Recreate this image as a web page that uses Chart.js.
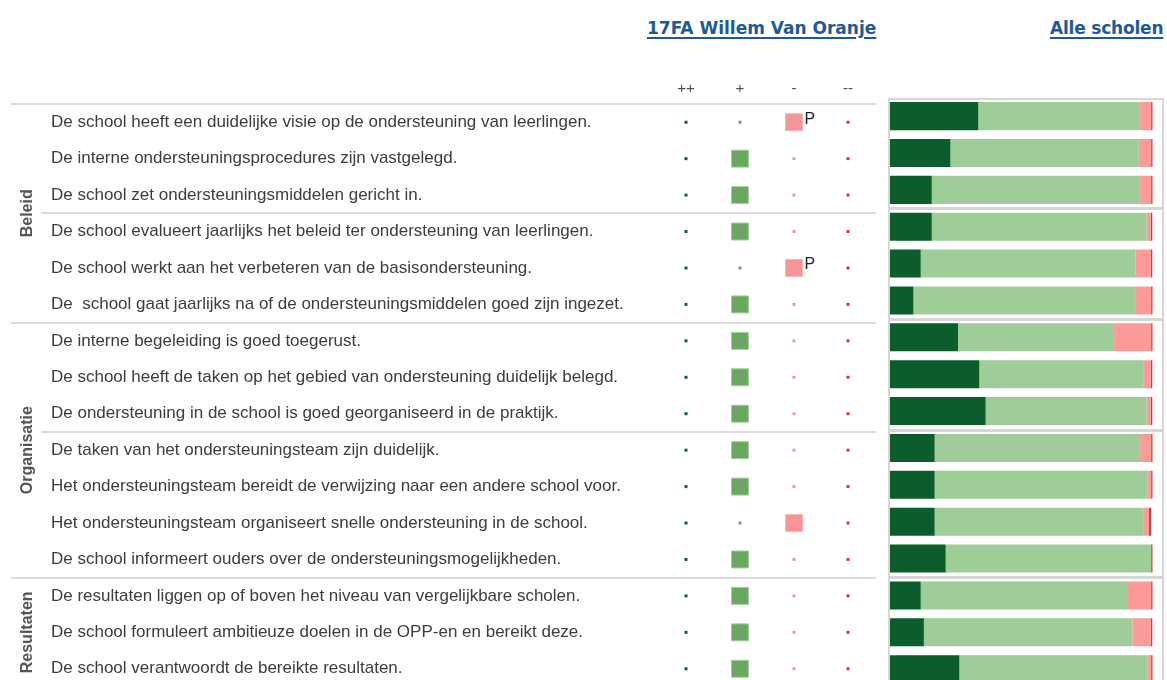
<!DOCTYPE html>
<html><head><meta charset="utf-8">
<script src="https://cdn.jsdelivr.net/npm/chart.js@4.4.1/dist/chart.umd.min.js"></script>
<style>
html,body{margin:0;padding:0;background:#fff;overflow:hidden;width:1167px;height:680px;}
#wrap{position:relative;width:1167px;height:680px;overflow:hidden;background:#fff;}
.title{position:absolute;font-family:"DejaVu Sans",sans-serif;font-weight:bold;font-size:17px;line-height:20px;color:#1f5a96;text-decoration:underline;text-underline-offset:3px;text-decoration-thickness:2px;white-space:nowrap;}
#c1{position:absolute;left:0;top:0;}
#c2{position:absolute;left:880px;top:0;}
</style></head>
<body><div id="wrap">
<div class="title" style="left:647px;top:18px">17FA Willem Van Oranje</div>
<div class="title" style="left:1050px;top:18px;letter-spacing:-0.2px">Alle scholen</div>
<canvas id="c1" width="888" height="700"></canvas>
<canvas id="c2" width="287" height="700"></canvas>
</div>
<script>
// ---- data ----
const questions = [
  "De school heeft een duidelijke visie op de ondersteuning van leerlingen.",
  "De interne ondersteuningsprocedures zijn vastgelegd.",
  "De school zet ondersteuningsmiddelen gericht in.",
  "De school evalueert jaarlijks het beleid ter ondersteuning van leerlingen.",
  "De school werkt aan het verbeteren van de basisondersteuning.",
  "De  school gaat jaarlijks na of de ondersteuningsmiddelen goed zijn ingezet.",
  "De interne begeleiding is goed toegerust.",
  "De school heeft de taken op het gebied van ondersteuning duidelijk belegd.",
  "De ondersteuning in de school is goed georganiseerd in de praktijk.",
  "De taken van het ondersteuningsteam zijn duidelijk.",
  "Het ondersteuningsteam bereidt de verwijzing naar een andere school voor.",
  "Het ondersteuningsteam organiseert snelle ondersteuning in de school.",
  "De school informeert ouders over de ondersteuningsmogelijkheden.",
  "De resultaten liggen op of boven het niveau van vergelijkbare scholen.",
  "De school formuleert ambitieuze doelen in de OPP-en en bereikt deze.",
  "De school verantwoordt de bereikte resultaten."
];
const groups = ["Beleid","Beleid","Beleid","Beleid","Beleid","Beleid",
  "Organisatie","Organisatie","Organisatie","Organisatie","Organisatie","Organisatie","Organisatie",
  "Resultaten","Resultaten","Resultaten"];
const subBreaks = [3, 9];
const answerLabels = ["++", "+", "-", "--"];

// school (17FA Willem Van Oranje): number of answers per category
const schoolPP = [0,0,0,0,0,0,0,0,0,0,0,0,0,0,0,0];
const schoolP  = [0,1,1,1,0,1,1,1,1,1,1,0,1,1,1,1];
const schoolM  = [1,0,0,0,1,0,0,0,0,0,0,1,0,0,0,0];
const schoolMM = [0,0,0,0,0,0,0,0,0,0,0,0,0,0,0,0];
const markers  = ["P","","","","P","","","","","","","","","","",""];

// all schools: percentage per answer category
const allPP = [33.6,23.0,15.9,15.9,11.7,8.9,25.9,34.0,36.4,17.0,17.0,17.0,21.2,11.7,12.9,26.4];
const allP  = [61.6,71.7,79.3,81.8,81.8,84.7,59.4,62.4,61.3,78.2,81.1,79.4,78.2,78.9,79.4,71.7];
const allM  = [4.2,4.7,4.2,1.6,5.8,5.8,14.1,2.9,1.6,4.2,1.3,2.1,0,8.8,7.0,1.3];
const allMM = [0.6,0.6,0.6,0.6,0.6,0.6,0.6,0.6,0.6,0.6,0.6,0.9,0.6,0.6,0.6,0.6];

// ---- styles ----
const C = {dark:'#0b5e2b', light:'#9fcd98', pink:'#fd9a9a', red:'#d93b3b',
           sqGreen:'#6aa862', sqPink:'#f59595', dotRed:'#e32e2e'};
const FONT = '"Liberation Sans", Arial, sans-serif';

function boundaries(){
  const b=[];
  for(let i=0;i<questions.length;i++){
    if(i===0 || groups[i]!==groups[i-1]) b.push({i, full:true});
    else if(subBreaks.includes(i)) b.push({i, full:false});
  }
  return b;
}
function edgeOf(scale,i){
  const half=(scale.getPixelForValue(1)-scale.getPixelForValue(0))/2;
  return scale.getPixelForValue(i)-half;
}

const leftDecor = {
  id:'leftDecor',
  beforeDatasetsDraw(chart){
    const ctx=chart.ctx, y=chart.scales.y;
    ctx.save();
    ctx.strokeStyle='#dcdcdc'; ctx.lineWidth=2;
    const right=chart.chartArea.right+1;
    boundaries().forEach(b=>{
      const yy=Math.round(edgeOf(y,b.i));
      ctx.beginPath(); ctx.moveTo(b.full?11:41,yy); ctx.lineTo(right,yy); ctx.stroke();
    });
    const uniq=[...new Set(groups)];
    ctx.fillStyle='#555555';
    ctx.font='bold 16px '+FONT;
    ctx.textAlign='center'; ctx.textBaseline='middle';
    uniq.forEach(g=>{
      const first=groups.indexOf(g), last=groups.lastIndexOf(g);
      const mid=(edgeOf(y,first)+edgeOf(y,last+1))/2;
      ctx.save(); ctx.translate(28,mid); ctx.rotate(-Math.PI/2);
      ctx.fillText(g,0,0); ctx.restore();
    });
    ctx.restore();
  },
  afterDatasetsDraw(chart){
    const ctx=chart.ctx;
    const meta=chart.getDatasetMeta(2);
    ctx.save();
    ctx.fillStyle='#1b2333';
    ctx.font='16px '+FONT;
    ctx.textAlign='left'; ctx.textBaseline='middle';
    markers.forEach((m,i)=>{
      if(!m) return;
      const el=meta.data[i];
      ctx.fillText(m, el.x+10.5, el.y-3);
    });
    ctx.restore();
  }
};

function colSet(label, counts, col, bigBorder){
  return {
    label,
    data: questions.map(q=>({x:label, y:q})),
    pointStyle:'rect',
    backgroundColor: col,
    borderColor: ctx=> counts[ctx.dataIndex]>0 ? bigBorder : col,
    borderWidth: ctx=> counts[ctx.dataIndex]>0 ? 1 : 0,
    pointRadius: ctx=> counts[ctx.dataIndex]>0 ? 12.0 : 2.1,
  };
}

new Chart(document.getElementById('c1'), {
  type:'scatter',
  data:{ datasets:[
    colSet('++', schoolPP, C.dark, '#4f8f5a'),
    colSet('+',  schoolP,  C.sqGreen, '#a3d29a'),
    colSet('-',  schoolM,  C.sqPink, '#fbb8b8'),
    colSet('--', schoolMM, C.dotRed, '#f08080'),
  ]},
  options:{
    responsive:false, animation:false, events:[],
    layout:{padding:{left:51, right:5, top:84, bottom:12.8}},
    plugins:{legend:{display:false}, tooltip:{enabled:false}},
    scales:{
      x:{type:'category', labels:answerLabels, position:'top', offset:true,
         grid:{display:false, drawTicks:false}, border:{display:false},
         ticks:{color:'#505050', font:{family:FONT, size:15}, padding:6},
         afterFit:s=>{s.height=20;}},
      y:{type:'category', labels:questions, offset:true,
         grid:{display:false, drawTicks:false}, border:{display:false},
         ticks:{crossAlign:'far', color:'#3d3d3d', padding:0, autoSkip:false,
                font:{family:FONT, size:17}},
         afterFit:s=>{s.width=608;}}
    }
  },
  plugins:[leftDecor]
});

const rightDecor = {
  id:'rightDecor',
  beforeDatasetsDraw(chart){
    const ctx=chart.ctx, y=chart.scales.y;
    const b=boundaries().map(o=>o.i).concat([questions.length]);
    ctx.save();
    ctx.strokeStyle='#d6d6d6'; ctx.lineWidth=2;
    const l=chart.chartArea.left-1, r=chart.width-4;
    for(let k=0;k<b.length-1;k++){
      const t=Math.round(edgeOf(y,b[k]))+1, bt=Math.round(edgeOf(y,b[k+1]));
      ctx.strokeRect(l,t,r-l,bt-t);
    }
    ctx.restore();
  }
};

new Chart(document.getElementById('c2'), {
  type:'bar',
  data:{ labels:questions, datasets:[
    {label:'++', data:allPP, backgroundColor:C.dark},
    {label:'+',  data:allP,  backgroundColor:C.light},
    {label:'-',  data:allM,  backgroundColor:C.pink},
    {label:'--', data:allMM, backgroundColor:C.red},
  ]},
  options:{
    indexAxis:'y', responsive:false, animation:false, events:[],
    layout:{padding:{left:10, right:14.3, top:97.7, bottom:12.4}},
    plugins:{legend:{display:false}, tooltip:{enabled:false}},
    datasets:{bar:{categoryPercentage:1, barPercentage:0.76, borderWidth:0}},
    scales:{
      x:{stacked:true, min:0, max:100, display:false},
      y:{stacked:true, display:false}
    }
  },
  plugins:[rightDecor]
});
</script>
</body></html>
